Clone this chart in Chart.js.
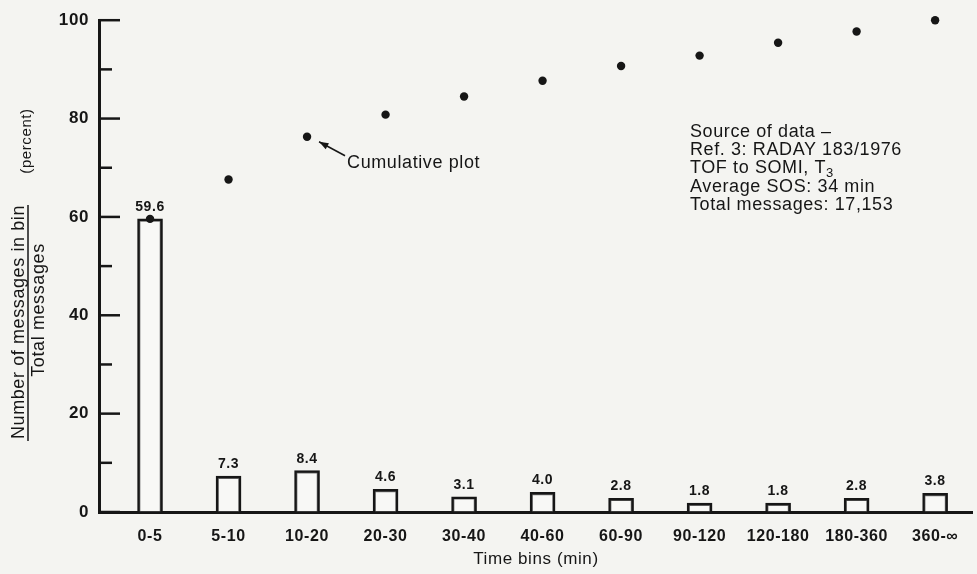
<!DOCTYPE html>
<html>
<head>
<meta charset="utf-8">
<script src="https://cdn.jsdelivr.net/npm/chart.js@4.4.1/dist/chart.umd.min.js"></script>
<style>
  html, body { margin: 0; padding: 0; background: #f4f4f1; }
  canvas { display: block; }
</style>
</head>
<body>
<canvas id="chart" width="977" height="574"></canvas>
<script>
// Time bins and the share of messages delivered in each (percent)
const timeBins = ['0-5', '5-10', '10-20', '20-30', '30-40', '40-60', '60-90', '90-120', '120-180', '180-360', '360-\u221E'];
const binPercent = [59.6, 7.3, 8.4, 4.6, 3.1, 4.0, 2.8, 1.8, 1.8, 2.8, 3.8];
// Cumulative plot points
const cumulativePercent = [59.6, 67.6, 76.3, 80.8, 84.5, 87.7, 90.7, 92.8, 95.4, 97.7, 100];
// Labelled y ticks (minor marks every 10 are drawn between them)
const yTickValues = [0, 20, 40, 60, 80, 100];
// Source note lines; the third ends with a subscript
const sourceNote = ['Source of data \u2013', 'Ref. 3: RADAY 183/1976', 'TOF to SOMI, T', 'Average SOS: 34 min', 'Total messages: 17,153'];
const sourceSubscript = '3';

const INK = '#161616';
const PAPER = '#f4f4f1';
const FAMILY = '"Liberation Sans", Arial, Helvetica, sans-serif';

const paper = {
  id: 'paper',
  beforeDraw(chart) {
    const ctx = chart.ctx;
    ctx.save();
    ctx.fillStyle = PAPER;
    ctx.fillRect(0, 0, chart.width, chart.height);
    ctx.restore();
    ctx.letterSpacing = '0.6px';
  }
};

// Tick marks pointing into the plot from the y axis
const innerTicks = {
  id: 'innerTicks',
  afterDraw(chart) {
    const { ctx, chartArea, scales: { y } } = chart;
    ctx.save();
    ctx.strokeStyle = INK;
    ctx.lineWidth = 2.5;
    for (let v = y.min; v <= y.max; v += 10) {
      const py = y.getPixelForValue(v);
      const len = v % 20 === 0 ? 21 : 13;
      ctx.beginPath();
      ctx.moveTo(chartArea.left, py);
      ctx.lineTo(chartArea.left + len, py);
      ctx.stroke();
    }
    ctx.restore();
  }
};

// Value printed above each bar
const valueLabels = {
  id: 'valueLabels',
  afterDatasetsDraw(chart) {
    const ctx = chart.ctx;
    const meta = chart.getDatasetMeta(0);
    ctx.save();
    ctx.fillStyle = INK;
    ctx.font = 'bold 14px ' + FAMILY;
    ctx.textAlign = 'center';
    ctx.textBaseline = 'alphabetic';
    meta.data.forEach((bar, i) => {
      ctx.fillText(binPercent[i].toFixed(1), bar.x, bar.y - 8);
    });
    ctx.restore();
  }
};

// Fraction-style y axis title, the callout and the source note
const annotations = {
  id: 'annotations',
  afterDraw(chart) {
    const { ctx, scales: { x, y } } = chart;
    ctx.save();
    ctx.fillStyle = INK;
    ctx.strokeStyle = INK;

    // y axis title
    ctx.save();
    ctx.rotate(-Math.PI / 2);
    ctx.textAlign = 'center';
    ctx.textBaseline = 'alphabetic';
    ctx.font = '18px ' + FAMILY;
    const numer = 'Number of messages in bin';
    const numY = 322;
    ctx.fillText(numer, -numY, 24);
    const w = ctx.measureText(numer).width;
    ctx.lineWidth = 1.5;
    ctx.beginPath();
    ctx.moveTo(-numY - w / 2 - 2, 28);
    ctx.lineTo(-numY + w / 2, 28);
    ctx.stroke();
    ctx.fillText('Total messages', -310, 44);
    ctx.font = '15px ' + FAMILY;
    ctx.fillText('(percent)', -141, 31);
    ctx.restore();

    // callout pointing at the 10-20 cumulative point
    const px = x.getPixelForValue(2);
    const py = y.getPixelForValue(cumulativePercent[2]);
    const tip = { x: px + 12, y: py + 5 };
    const tail = { x: px + 38, y: py + 19 };
    ctx.lineWidth = 1.5;
    ctx.beginPath();
    ctx.moveTo(tail.x, tail.y);
    ctx.lineTo(tip.x, tip.y);
    ctx.stroke();
    const ang = Math.atan2(tip.y - tail.y, tip.x - tail.x);
    ctx.beginPath();
    ctx.moveTo(tip.x, tip.y);
    ctx.lineTo(tip.x - 10 * Math.cos(ang - 0.35), tip.y - 10 * Math.sin(ang - 0.35));
    ctx.lineTo(tip.x - 10 * Math.cos(ang + 0.35), tip.y - 10 * Math.sin(ang + 0.35));
    ctx.closePath();
    ctx.fill();
    ctx.font = '18px ' + FAMILY;
    ctx.textAlign = 'left';
    ctx.fillText('Cumulative plot', px + 40, py + 31);

    // source note
    const left = 690;
    const baselines = [136.5, 155, 173, 191.5, 210];
    sourceNote.forEach((line, i) => {
      ctx.font = '18px ' + FAMILY;
      ctx.fillText(line, left, baselines[i]);
      if (i === 2) {
        const lw = ctx.measureText(line).width;
        ctx.font = '13px ' + FAMILY;
        ctx.fillText(sourceSubscript, left + lw, baselines[i] + 4);
      }
    });
    ctx.restore();
  }
};

new Chart(document.getElementById('chart'), {
  type: 'bar',
  data: {
    datasets: [
      {
        type: 'bar',
        order: 1,
        data: binPercent.map((v, i) => ({ x: i, y: v })),
        backgroundColor: 'rgba(255,255,255,0.4)',
        borderColor: INK,
        borderWidth: 2.5,
        borderSkipped: 'start',
        barThickness: 25
      },
      {
        type: 'line',
        order: 0,
        clip: false,
        data: cumulativePercent.map((v, i) => ({ x: i, y: v })),
        showLine: false,
        pointRadius: 4.2,
        pointBorderWidth: 0,
        pointBackgroundColor: INK,
        pointBorderColor: INK
      }
    ]
  },
  options: {
    responsive: false,
    animation: false,
    devicePixelRatio: 1,
    layout: { padding: { left: 0, top: 16, right: 2, bottom: 0 } },
    plugins: {
      legend: { display: false },
      tooltip: { enabled: false }
    },
    scales: {
      x: {
        type: 'linear',
        offset: false,
        min: -0.65,
        max: 10.48,
        afterFit(scale) { scale.height = 62; },
        afterBuildTicks(scale) { scale.ticks = timeBins.map((_, i) => ({ value: i })); },
        grid: { display: true, offset: false, drawOnChartArea: false, drawTicks: false, color: 'rgba(0,0,0,0)' },
        border: { display: true, color: INK, width: 3 },
        ticks: {
          autoSkip: false,
          maxRotation: 0,
          padding: 15,
          color: INK,
          font: { family: FAMILY, weight: 'bold', size: 16 },
          callback: (v) => timeBins[v]
        },
        title: {
          display: true,
          text: 'Time bins (min)',
          color: INK,
          font: { family: FAMILY, size: 17 },
          padding: { top: 0, bottom: 4 }
        }
      },
      y: {
        min: 0,
        max: 100,
        afterFit(scale) { scale.width = 99; },
        afterBuildTicks(scale) { scale.ticks = yTickValues.map(v => ({ value: v })); },
        grid: { display: true, drawOnChartArea: false, drawTicks: false, color: 'rgba(0,0,0,0)' },
        border: { display: true, color: INK, width: 3 },
        ticks: {
          padding: 10,
          color: INK,
          font: { family: FAMILY, weight: 'bold', size: 17 }
        }
      }
    }
  },
  plugins: [paper, innerTicks, valueLabels, annotations]
});
</script>
</body>
</html>
